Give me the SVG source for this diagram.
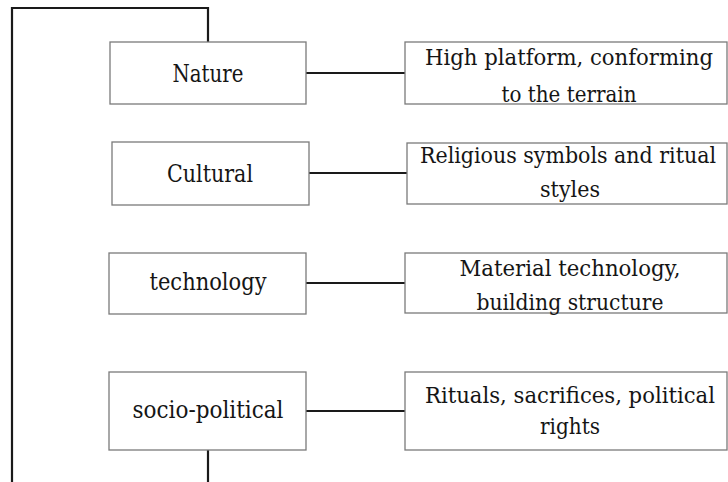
<svg xmlns="http://www.w3.org/2000/svg" width="728" height="482" viewBox="0 0 728 482">
  <style>
    .box { fill: #ffffff; stroke: #7a7a7a; stroke-width: 1.3; }
    .link { fill: none; stroke: #1a1a1a; stroke-width: 2.2; }
    .label { font-family: "DejaVu Serif", "Liberation Serif", serif; font-size: 23.5px; fill: #151515; text-anchor: middle; }
    .desc { font-size: 22px; }
  </style>
  <rect x="0" y="0" width="728" height="482" fill="#ffffff"/>

  <!-- connectors -->
  <g id="connectors">
    <polyline class="link" points="12,482 12,8 208,8 208,42"/>
    <line class="link" x1="208" y1="450" x2="208" y2="482"/>
    <line class="link" x1="306" y1="73" x2="405" y2="73"/>
    <line class="link" x1="309" y1="173" x2="407" y2="173"/>
    <line class="link" x1="306" y1="283" x2="405" y2="283"/>
    <line class="link" x1="306" y1="411" x2="405" y2="411"/>
  </g>

  <!-- factor nodes -->
  <g id="nature">
    <rect class="box" x="110" y="42" width="196" height="62"/>
    <text class="label" x="208" y="82" textLength="71" lengthAdjust="spacingAndGlyphs">Nature</text>
  </g>
  <g id="cultural">
    <rect class="box" x="112" y="142" width="197" height="63"/>
    <text class="label" x="210" y="182" textLength="86" lengthAdjust="spacingAndGlyphs">Cultural</text>
  </g>
  <g id="technology">
    <rect class="box" x="109" y="253" width="197" height="61"/>
    <text class="label" x="208" y="290" textLength="117" lengthAdjust="spacingAndGlyphs">technology</text>
  </g>
  <g id="socio-political">
    <rect class="box" x="109" y="372" width="197" height="78"/>
    <text class="label" x="208" y="418" textLength="151" lengthAdjust="spacingAndGlyphs">socio-political</text>
  </g>

  <!-- description nodes -->
  <g id="nature-desc">
    <rect class="box" x="405" y="42" width="322" height="62"/>
    <text class="label desc" x="569" y="65" textLength="288" lengthAdjust="spacingAndGlyphs">High platform, conforming</text>
    <text class="label desc" x="569" y="102" textLength="135" lengthAdjust="spacingAndGlyphs">to the terrain</text>
  </g>
  <g id="cultural-desc">
    <rect class="box" x="407" y="143" width="320" height="61"/>
    <text class="label desc" x="568" y="163" textLength="296" lengthAdjust="spacingAndGlyphs" font-size="20.5">Religious symbols and ritual</text>
    <text class="label desc" x="570" y="197" textLength="60" lengthAdjust="spacingAndGlyphs">styles</text>
  </g>
  <g id="technology-desc">
    <rect class="box" x="405" y="253" width="322" height="60"/>
    <text class="label desc" x="570" y="276" textLength="221" lengthAdjust="spacingAndGlyphs">Material technology,</text>
    <text class="label desc" x="570" y="310" textLength="187" lengthAdjust="spacingAndGlyphs">building structure</text>
  </g>
  <g id="socio-political-desc">
    <rect class="box" x="405" y="372" width="322" height="78"/>
    <text class="label desc" x="570" y="403" textLength="290" lengthAdjust="spacingAndGlyphs">Rituals, sacrifices, political</text>
    <text class="label desc" x="570" y="434" textLength="60" lengthAdjust="spacingAndGlyphs">rights</text>
  </g>
</svg>
